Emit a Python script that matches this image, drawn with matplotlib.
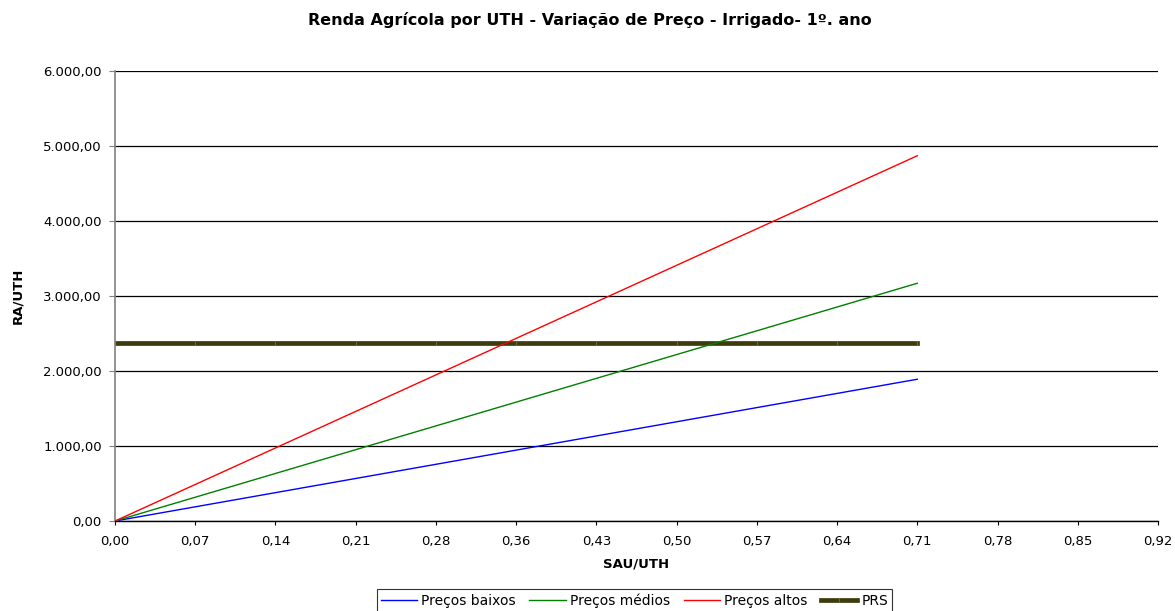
import matplotlib
matplotlib.use("Agg")
from matplotlib import pyplot as plt

plt.rcParams['font.family'] = ['DejaVu Sans']

# SAU/UTH points (x) and income per UTH for each price scenario
sau = [0.0, 0.0709, 0.1418, 0.2127, 0.2836, 0.3545, 0.4254, 0.4963, 0.5672, 0.6381, 0.709]
precos_baixos = [0, 189, 378, 567, 756, 945, 1134, 1323, 1512, 1701, 1890]
precos_medios = [0, 317, 634, 951, 1268, 1585, 1902, 2219, 2536, 2853, 3170]
precos_altos = [0, 487, 974, 1461, 1948, 2435, 2922, 3409, 3896, 4383, 4870]
prs = [2370, 2370, 2370, 2370, 2370, 2370, 2370, 2370, 2370, 2370, 2370]

x_ticks = [0.0, 0.0709, 0.1418, 0.2127, 0.2836, 0.3545, 0.4254, 0.4963, 0.5672,
           0.6381, 0.709, 0.7799, 0.8508, 0.9217]
x_labels = ["0,00", "0,07", "0,14", "0,21", "0,28", "0,36", "0,43", "0,50", "0,57",
            "0,64", "0,71", "0,78", "0,85", "0,92"]
y_ticks = [0, 1000, 2000, 3000, 4000, 5000, 6000]
y_labels = ["0,00", "1.000,00", "2.000,00", "3.000,00", "4.000,00", "5.000,00", "6.000,00"]

fig = plt.figure(figsize=(11.75, 6.11), dpi=100)
ax = fig.add_axes([0.0979, 0.1473, 0.8876, 0.7365])

ax.plot(sau, precos_baixos, color='#0000ff', lw=1.0, label='Preços baixos', zorder=3)
ax.plot(sau, precos_medios, color='#008000', lw=1.0, label='Preços médios', zorder=3)
ax.plot(sau, precos_altos, color='#ff0000', lw=1.0, label='Preços altos', zorder=3)
ax.plot(sau, prs, color='#3f3c0c', lw=3.4, label='PRS', zorder=2,
        marker='|', ms=3, mec='#6b6848', mew=0.8)

ax.set_xlim(0, x_ticks[-1])
ax.set_ylim(0, 6000)
ax.set_xticks(x_ticks)
ax.set_xticklabels(x_labels, fontsize=9.5)
ax.set_yticks(y_ticks)
ax.set_yticklabels(y_labels, fontsize=9.5)
ax.tick_params(axis='x', direction='out', length=3, width=0.8, pad=7)
ax.tick_params(axis='y', direction='out', length=4.5, width=0.8, pad=5,
               colors='#808080', labelcolor='black')

ax.grid(axis='y', color='black', lw=0.9)
ax.set_axisbelow(True)
for side in ['top', 'right']:
    ax.spines[side].set_visible(False)
ax.spines['left'].set_color('#808080')
ax.spines['left'].set_linewidth(1.2)
ax.spines['bottom'].set_color('black')
ax.spines['bottom'].set_linewidth(1.0)

ax.set_xlabel("SAU/UTH", fontsize=9.5, fontweight='bold', labelpad=7)
ax.set_ylabel("RA/UTH", fontsize=9.5, fontweight='bold', labelpad=14)

fig.text(0.502, 0.967, "Renda Agrícola por UTH - Variação de Preço - Irrigado- 1º. ano",
         ha='center', va='center', fontsize=11.5, fontweight='bold')

leg = fig.legend(loc='upper center', bbox_to_anchor=(0.54, 0.036), ncol=4, fontsize=10,
                 frameon=True, fancybox=False, edgecolor='black', handlelength=2.6,
                 handletextpad=0.3, columnspacing=1.0, borderpad=0.3,
                 borderaxespad=0)
leg.get_frame().set_linewidth(0.8)

fig.savefig("out.png", dpi=100)
